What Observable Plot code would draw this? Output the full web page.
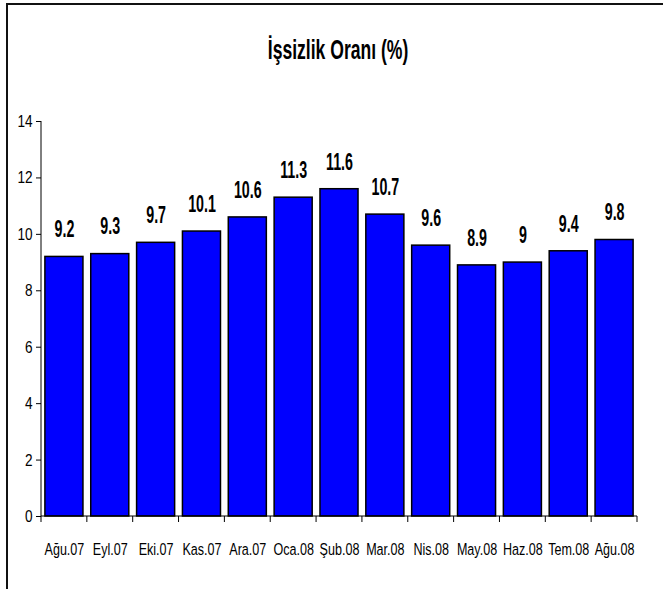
<!DOCTYPE html>
<html><head><meta charset="utf-8">
<script src="https://cdn.jsdelivr.net/npm/d3@7"></script>
<script src="https://cdn.jsdelivr.net/npm/@observablehq/plot@0.6"></script>
<style>
html,body{margin:0;padding:0;background:#fff;}
#wrap{position:relative;width:663px;height:589px;overflow:hidden;background:#fff;}
#frameTop{position:absolute;left:6px;top:3px;width:657px;height:2px;background:#111;}
#frameLeft{position:absolute;left:6px;top:3px;width:2px;height:586px;background:#111;}
#title{position:absolute;left:0;top:37px;width:663px;text-align:center;font:bold 27px/27px "Liberation Sans",Arial,sans-serif;color:#000;white-space:nowrap;}
#title span{display:inline-block;transform:scaleX(0.65);transform-origin:center;margin-left:14px;}
#chart{position:absolute;left:0;top:0;}
</style></head>
<body>
<div id="wrap">
  <div id="chart"></div>
  <div id="frameTop"></div>
  <div id="frameLeft"></div>
  <div id="title"><span>İşsizlik Oranı (%)</span></div>
</div>
<script>
const months = ["Ağu.07","Eyl.07","Eki.07","Kas.07","Ara.07","Oca.08","Şub.08","Mar.08","Nis.08","May.08","Haz.08","Tem.08","Ağu.08"];
const rates = [9.2, 9.3, 9.7, 10.1, 10.6, 11.3, 11.6, 10.7, 9.6, 8.9, 9, 9.4, 9.8];
const yTicks = [0, 2, 4, 6, 8, 10, 12, 14];

const data = months.map((m, i) => ({month: m, rate: rates[i]}));
const font = '"Liberation Sans",Arial,sans-serif';

const plot = Plot.plot({
  width: 663,
  height: 589,
  marginTop: 121,
  marginBottom: 73,
  marginLeft: 41,
  marginRight: 26,
  style: {fontFamily: font, fontSize: "17px", color: "#000", background: "transparent"},
  x: {domain: months, paddingInner: 0.17, paddingOuter: 0.085, round: false, label: null},
  y: {domain: [0, 14], label: null},
  marks: [
    Plot.barY(data, {x: "month", y: "rate", fill: "#0000FF", stroke: "#000", strokeWidth: 1.5}),
    Plot.text(data, {x: "month", y: "rate", text: d => String(d.rate), dy: -27, fontWeight: "bold", fontSize: 23, fill: "#000"}),
    Plot.axisY({ticks: yTicks, tickSize: 5, tickPadding: 4, fontSize: 17, stroke: "#000"}),
    Plot.axisX({tickSize: 0, tickPadding: 26, fontSize: 17})
  ]
});
document.getElementById("chart").appendChild(plot);

// condense text horizontally (narrow font look of the original), scaling about each text's anchor
function condense(selector, f) {
  plot.querySelectorAll(selector).forEach(t => {
    const b = t.getBBox();
    const anchor = getComputedStyle(t).textAnchor || t.getAttribute("text-anchor") || "start";
    const ax = anchor === "middle" ? b.x + b.width / 2 : anchor === "end" ? b.x + b.width : b.x;
    const tr = t.getAttribute("transform") || "";
    t.setAttribute("transform", `${tr} translate(${ax},0) scale(${f},1) translate(${-ax},0)`.trim());
  });
}
condense('g[aria-label="x-axis tick label"] text', 0.74);
condense('g[aria-label="y-axis tick label"] text', 0.8);
condense('g[aria-label="text"] text', 0.62);

// axis lines and boundary ticks using the plot's own scales
const xs = plot.scale("x");
const ys = plot.scale("y");
const step = xs.step;
const half = (step - xs.bandwidth) / 2;
const x0 = xs.apply(months[0]) - half;
const yZero = ys.apply(0);
const yTop = ys.apply(14);
const svg = d3.select(plot);
const g = svg.append("g").attr("stroke", "#000").attr("stroke-width", 1).attr("fill", "none");
g.append("line").attr("x1", x0).attr("x2", x0).attr("y1", yTop).attr("y2", yZero);
months.forEach(m => {
  const xb = xs.apply(m) - half;
  g.append("line").attr("x1", xb).attr("x2", xb).attr("y1", yZero).attr("y2", yZero + 6);
});
const xEnd = xs.apply(months[months.length - 1]) + xs.bandwidth + half;
g.append("line").attr("x1", xEnd).attr("x2", xEnd).attr("y1", yZero).attr("y2", yZero + 6);
g.append("line").attr("x1", x0).attr("x2", xEnd).attr("y1", yZero).attr("y2", yZero);
</script>
</body></html>
